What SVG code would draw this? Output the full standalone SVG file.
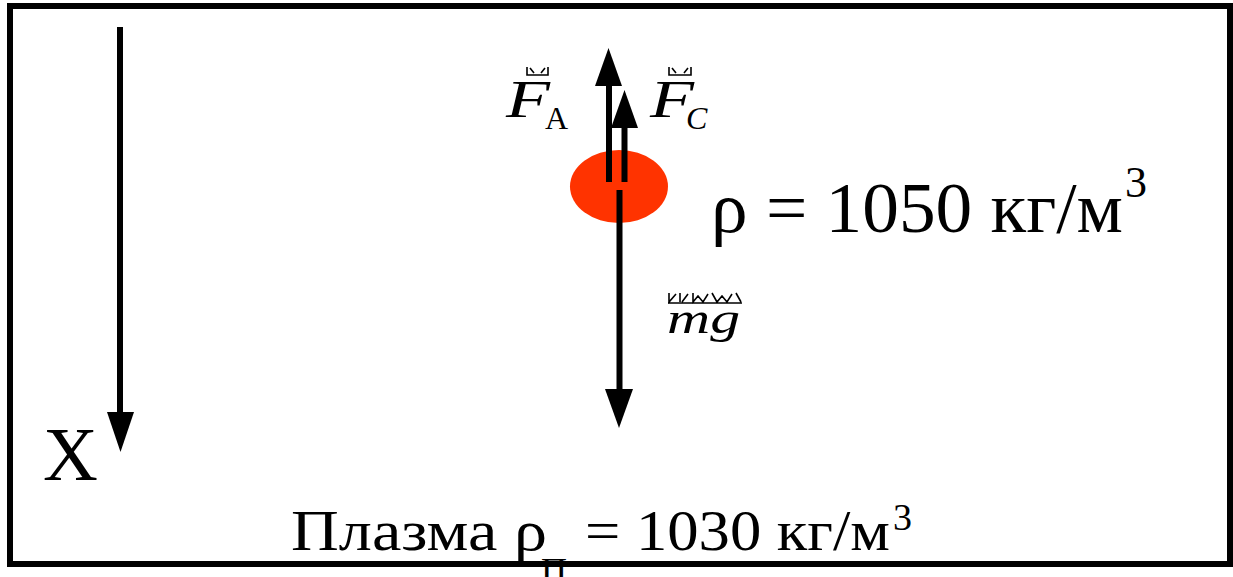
<svg xmlns="http://www.w3.org/2000/svg" width="1233" height="577" viewBox="0 0 1233 577">
<style>
.t{font-family:"Liberation Serif","Times New Roman",serif;fill:#000}
.i{font-style:italic}
.shaft{stroke:#000;stroke-width:6;fill:none}
.head{fill:#000}
.mark{stroke:#000;stroke-width:1.6;fill:none}
</style>
<rect width="1233" height="577" fill="#fff"/>
<rect id="frame" x="10" y="6" width="1220" height="558" fill="none" stroke="#000" stroke-width="6"/>
<g id="ball"><ellipse cx="619" cy="186.5" rx="49" ry="36.5" fill="#ff3300"/></g>
<g id="connectors">
  <line class="shaft" x1="120" y1="27" x2="120" y2="414"/>
  <polygon class="head" points="107,412 134,412 120.5,452"/>
  <line class="shaft" x1="609" y1="182" x2="609" y2="84"/>
  <polygon class="head" points="595,86 622,86 608.5,48"/>
  <line class="shaft" x1="624.5" y1="182" x2="624.5" y2="126"/>
  <polygon class="head" points="611,128 638,128 624.5,90"/>
  <line class="shaft" x1="619.5" y1="190" x2="619.5" y2="391"/>
  <polygon class="head" points="605,389 633,389 619,428"/>
</g>
<g id="label-x"><text class="t" x="43" y="480" font-size="76">X</text></g>
<g id="label-fa">
  <path class="mark" d="M527,67 V75 H548 V67 M530,68 L534,73 M545,68 L541,73"/>
  <text class="t i" x="506" y="117" font-size="52" textLength="44" lengthAdjust="spacingAndGlyphs">F</text>
  <text class="t" x="545" y="129" font-size="32">A</text>
</g>
<g id="label-fc">
  <path class="mark" d="M669,67 V75 H691 V67 M672,68 L676,73 M688,68 L684,73"/>
  <text class="t i" x="650" y="117" font-size="52" textLength="44" lengthAdjust="spacingAndGlyphs">F</text>
  <text class="t i" x="686" y="129" font-size="32">C</text>
</g>
<g id="label-mg">
  <path class="mark" d="M668,303 H742 M669,293 V302 L676,294 M680,293 V302 M682,302 L688,294 M693,293 V302 L698,296 L703,302 L708,294 M712,293 L717,302 L722,296 L727,302 L732,294 M736,293 L741,302"/>
  <text class="t i" x="667" y="333" font-size="44" textLength="73" lengthAdjust="spacingAndGlyphs">mg</text>
</g>
<g id="label-rho">
  <text class="t" x="711" y="232" font-size="72" textLength="412" lengthAdjust="spacingAndGlyphs">ρ = 1050 кг/м</text>
  <text class="t" x="1125" y="197" font-size="44">3</text>
</g>
<g id="label-plasma">
  <text class="t" x="291" y="550" font-size="58" textLength="256" lengthAdjust="spacingAndGlyphs">Плазма ρ</text>
  <text class="t" x="541" y="583" font-size="36">П</text>
  <text class="t" x="585" y="550" font-size="58" textLength="305" lengthAdjust="spacingAndGlyphs">= 1030 кг/м</text>
  <text class="t" x="893" y="530" font-size="38">3</text>
</g>
</svg>
